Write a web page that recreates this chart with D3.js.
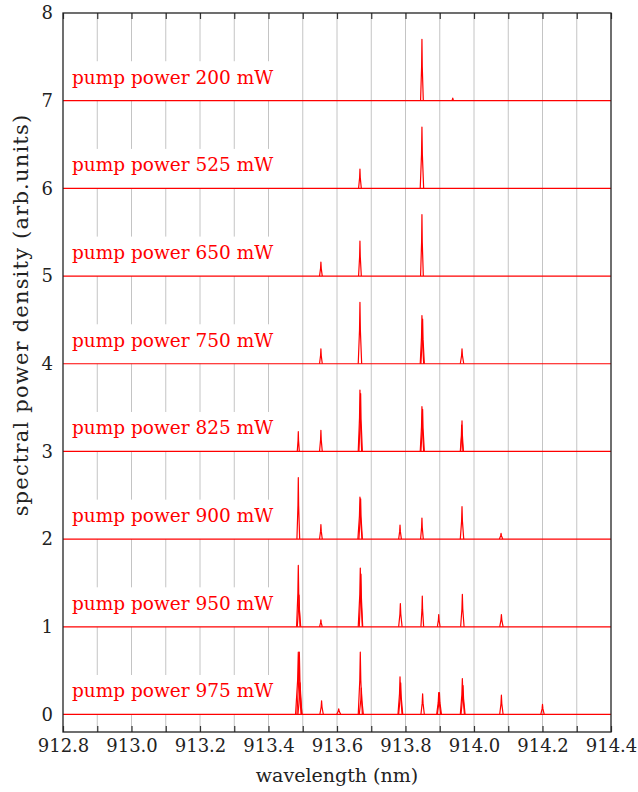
<!DOCTYPE html>
<html>
<head>
<meta charset="utf-8">
<script src="https://cdn.jsdelivr.net/npm/d3@7"></script>
<style>
  body { margin: 0; background: #fff; }
</style>
</head>
<body>
<div id="chart"></div>
<script>
// pump powers, one spectrum each, stacked with offset 0..7
const powers = ["975", "950", "900", "825", "750", "650", "525", "200"];
const offsets = [0, 1, 2, 3, 4, 5, 6, 7];

// peaks of each spectrum: [wavelength nm, height, half width nm]
const peaks975 = [[913.487, 0.71, 0.008], [913.490, 0.71, 0.007], [913.492, 0.36, 0.006], [913.555, 0.155, 0.005],
    [913.605, 0.065, 0.006], [913.668, 0.71, 0.006], [913.671, 0.30, 0.006], [913.784, 0.43, 0.006],
    [913.786, 0.36, 0.006], [913.850, 0.235, 0.005], [913.897, 0.25, 0.006], [913.899, 0.25, 0.006],
    [913.966, 0.41, 0.006], [913.968, 0.33, 0.006], [914.080, 0.22, 0.005], [914.200, 0.115, 0.005]];
const peaks950 = [[913.487, 0.70, 0.005], [913.489, 0.36, 0.005], [913.553, 0.08, 0.004], [913.668, 0.67, 0.006],
    [913.670, 0.60, 0.005], [913.785, 0.265, 0.005], [913.849, 0.35, 0.004], [913.897, 0.14, 0.004],
    [913.966, 0.37, 0.005], [914.080, 0.14, 0.005]];
const peaks900 = [[913.487, 0.70, 0.004], [913.553, 0.165, 0.004], [913.667, 0.48, 0.006], [913.669, 0.46, 0.005],
    [913.784, 0.16, 0.004], [913.848, 0.24, 0.004], [913.965, 0.37, 0.005], [914.079, 0.065, 0.005]];
const peaks825 = [[913.487, 0.225, 0.003], [913.553, 0.24, 0.004], [913.667, 0.70, 0.005], [913.669, 0.66, 0.005],
    [913.848, 0.51, 0.005], [913.850, 0.48, 0.005], [913.965, 0.35, 0.004], [913.964, 0.30, 0.004]];
const peaks750 = [[913.553, 0.17, 0.004], [913.667, 0.70, 0.005], [913.848, 0.55, 0.005], [913.850, 0.51, 0.005],
    [913.965, 0.17, 0.005]];
const peaks650 = [[913.553, 0.16, 0.004], [913.667, 0.40, 0.004], [913.848, 0.70, 0.004]];
const peaks525 = [[913.667, 0.22, 0.004], [913.848, 0.70, 0.005]];
const peaks200 = [[913.848, 0.70, 0.004], [913.938, 0.03, 0.003]];
const allPeaks = [peaks975, peaks950, peaks900, peaks825, peaks750, peaks650, peaks525, peaks200];

const xTicks = [912.8, 912.9, 913.0, 913.1, 913.2, 913.3, 913.4, 913.5, 913.6, 913.7,
    913.8, 913.9, 914.0, 914.1, 914.2, 914.3, 914.4];
const xTickLabels = ["912.8", "", "913.0", "", "913.2", "", "913.4", "", "913.6", "",
    "913.8", "", "914.0", "", "914.2", "", "914.4"];
const yTicks = [0, 1, 2, 3, 4, 5, 6, 7, 8];

const width = 638, height = 792;
const pLeft = 63, pRight = 611, pTop = 13, pBottom = 732;
const serif = "'DejaVu Serif', 'Liberation Serif', serif";

const x = d3.scaleLinear().domain([912.8, 914.4]).range([pLeft, pRight]);
const y = d3.scaleLinear().domain([-0.2, 8]).range([pBottom, pTop]);

const svg = d3.select("#chart").append("svg")
    .attr("width", width)
    .attr("height", height);

// vertical grid
svg.append("g")
    .selectAll("line")
    .data(xTicks.slice(1, -1))
    .enter().append("line")
    .attr("x1", d => x(d)).attr("x2", d => x(d))
    .attr("y1", pTop).attr("y2", pBottom)
    .attr("stroke", "#c4c4c4")
    .attr("stroke-width", 1);

// white boxes behind the labels hide the grid
svg.append("g")
    .selectAll("rect")
    .data(offsets)
    .enter().append("rect")
    .attr("x", pLeft + 0.5)
    .attr("y", d => y(d + 0.45))
    .attr("width", 222)
    .attr("height", d => y(d) - y(d + 0.45))
    .attr("fill", "#fff");

svg.append("g")
    .selectAll("text")
    .data(offsets)
    .enter().append("text")
    .attr("x", 72)
    .attr("y", d => y(d + 0.195))
    .attr("fill", "#ff0000")
    .style("font-family", serif)
    .style("font-size", "18.5px")
    .text((d, i) => "pump power " + powers[i] + " mW");

// spectra: flat baseline + one spike per peak
const line = d3.line().x(d => x(d[0])).y(d => y(d[1]));
const spectra = svg.append("g")
    .attr("fill", "none")
    .attr("stroke", "#ff0000")
    .attr("stroke-width", 1.2)
    .attr("stroke-linejoin", "round");

offsets.forEach(function (o, i) {
    spectra.append("path")
        .attr("d", line([[912.8, o], [914.4, o]]));
    spectra.selectAll(".p" + i)
        .data(allPeaks[i])
        .enter().append("path")
        .attr("class", "p" + i)
        .attr("d", p => line([[p[0] - p[2], o], [p[0] - p[2] * 0.25, o + p[1] * 0.55], [p[0], o + p[1]],
            [p[0] + p[2] * 0.25, o + p[1] * 0.55], [p[0] + p[2], o]]));
});

// axes
svg.append("g")
    .attr("transform", "translate(0," + pBottom + ")")
    .call(d3.axisBottom(x).tickValues(xTicks).tickSize(-6).tickPadding(7)
        .tickFormat((d, i) => xTickLabels[i]))
    .call(g => g.select(".domain").remove())
    .call(g => g.selectAll("text").style("font-family", serif).style("font-size", "18px").attr("fill", "#222"));

svg.append("g")
    .attr("transform", "translate(0," + pTop + ")")
    .call(d3.axisTop(x).tickValues(xTicks).tickSize(-6).tickFormat(""))
    .call(g => g.select(".domain").remove());

svg.append("g")
    .attr("transform", "translate(" + pLeft + ",0)")
    .call(d3.axisLeft(y).tickValues(yTicks).tickSize(0).tickPadding(10))
    .call(g => g.select(".domain").remove())
    .call(g => g.selectAll("text").style("font-family", serif).style("font-size", "18px").attr("fill", "#222"));

svg.selectAll(".tick line").attr("stroke", "#333").attr("stroke-width", 1.2);

svg.append("rect")
    .attr("x", pLeft).attr("y", pTop)
    .attr("width", pRight - pLeft).attr("height", pBottom - pTop)
    .attr("fill", "none")
    .attr("stroke", "#222")
    .attr("stroke-width", 1.3);

svg.append("text")
    .attr("x", (pLeft + pRight) / 2)
    .attr("y", 782)
    .attr("text-anchor", "middle")
    .style("font-family", serif)
    .style("font-size", "19px")
    .attr("fill", "#222")
    .text("wavelength (nm)");

svg.append("text")
    .attr("transform", "translate(28," + 315 + ") rotate(-90)")
    .attr("text-anchor", "middle")
    .style("font-family", serif)
    .style("font-size", "21px")
    .style("letter-spacing", "1.2px")
    .attr("fill", "#222")
    .text("spectral power density (arb.units)");
</script>
</body>
</html>
